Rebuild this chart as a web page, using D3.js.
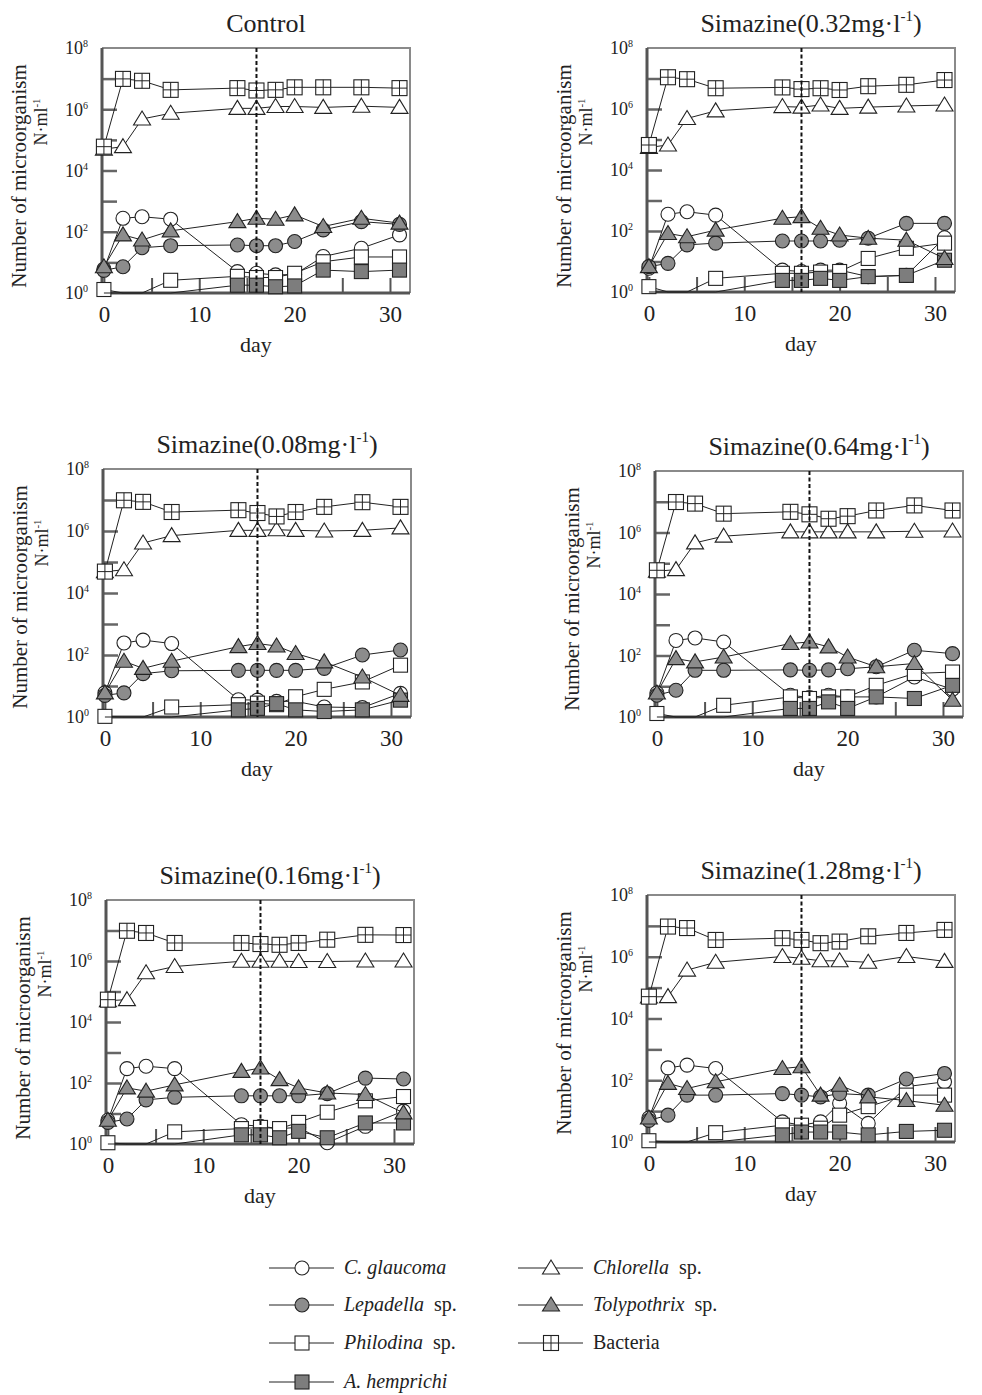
<!DOCTYPE html>
<html>
<head>
<meta charset="utf-8">
<script src="https://cdn.jsdelivr.net/npm/d3@7/dist/d3.min.js"></script>
<style>
  body { margin: 0; background: #fff; }
  svg { display: block; }
  text { font-family: "Liberation Serif", "Times New Roman", serif; fill: #222; }
</style>
</head>
<body>
<svg id="chart" width="982" height="1395"></svg>
<script>
// Sampling days
const days = [0, 2, 4, 7, 14, 16, 18, 20, 23, 27, 31];

// Treatments: null = control, otherwise simazine concentration (mg·l-1)
const treatments = [null, "0.08", "0.16", "0.32", "0.64", "1.28"];

// Densities (N·ml-1); one row per treatment in the order above; 0 = not detected
const cGlaucoma = [
  [6.0, 275, 309, 257, 5.0, 4.4, 3.9, 4.0, 15.5, 29, 79],
  [6.0, 245, 302, 234, 3.6, 3.5, 3.2, 3.2, 2.1, 2.0, 5.8],
  [6.0, 295, 355, 295, 4.3, 3.8, 3.2, 3.5, 1.1, 3.8, 12],
  [6.0, 355, 427, 331, 5.2, 4.7, 5.2, 5.2, 3.2, 3.5, 60],
  [6.0, 309, 372, 275, 5.1, 4.3, 5.1, 4.5, 4.5, 20, 8],
  [6.0, 251, 309, 240, 4.5, 3.5, 4.5, 18, 4.0, 62, 89]
];
const lepadella = [
  [5.5, 7.2, 30, 35, 37, 35, 35, 48, 115, 214, 174],
  [5.0, 6.0, 25, 31, 32, 32, 32, 32, 37, 100, 145],
  [5.1, 6.6, 28, 34, 38, 38, 38, 38, 45, 145, 135],
  [6.8, 8.7, 35, 40, 47, 47, 47, 50, 58, 178, 178],
  [5.1, 7.4, 33, 33, 34, 33, 34, 37, 43, 148, 115],
  [5.0, 7.4, 33, 33, 37, 33, 29, 37, 33, 110, 166]
];
const philodina = [
  [1.3, 0, 0, 2.6, 3.5, 3.2, 3.2, 4.4, 10.5, 15, 15],
  [1.05, 0, 0, 2.1, 2.5, 2.8, 2.5, 4.5, 7.8, 13.5, 47],
  [1.1, 0, 0, 2.5, 3.2, 3.5, 3.2, 5.1, 11, 26, 36],
  [1.5, 0, 0, 2.8, 4.1, 4.1, 4.5, 4.7, 12.6, 27, 40],
  [1.3, 0, 0, 2.4, 4.5, 4.0, 4.5, 4.5, 10.7, 26, 29],
  [1.1, 0, 0, 2.0, 3.5, 3.5, 2.8, 7.4, 14, 33, 33]
];
const aHemprichi = [
  [0, 0, 0, 0, 1.8, 1.8, 1.6, 1.7, 5.6, 5.0, 5.6],
  [0, 0, 0, 0, 1.7, 1.9, 2.7, 1.7, 1.5, 1.7, 3.5],
  [0, 0, 0, 0, 2.0, 2.0, 1.6, 2.6, 1.6, 4.9, 4.9],
  [0, 0, 0, 0, 2.4, 2.4, 2.8, 2.4, 3.2, 3.5, 11],
  [0, 0, 0, 0, 1.9, 1.9, 3.1, 1.9, 4.5, 4.0, 10.7],
  [0, 0, 0, 0, 1.7, 2.1, 2.1, 2.1, 1.7, 2.2, 2.4]
];
const chlorella = [
  [5.0e4, 6.0e4, 4.8e5, 7.4e5, 1.07e6, 1.07e6, 1.23e6, 1.23e6, 1.15e6, 1.26e6, 1.15e6],
  [4.9e4, 5.6e4, 4.1e5, 7.1e5, 1.05e6, 1.05e6, 1.1e6, 1.05e6, 1.0e6, 1.05e6, 1.26e6],
  [5.0e4, 5.4e4, 4.1e5, 6.6e5, 9.8e5, 9.8e5, 9.8e5, 9.6e5, 9.6e5, 1.0e6, 1.0e6],
  [5.5e4, 6.6e4, 4.9e5, 8.7e5, 1.2e6, 1.15e6, 1.35e6, 1.05e6, 1.15e6, 1.26e6, 1.35e6],
  [5.5e4, 6.2e4, 4.6e5, 7.6e5, 1.05e6, 1.05e6, 1.05e6, 1.05e6, 1.05e6, 1.1e6, 1.12e6],
  [5.0e4, 5.1e4, 3.7e5, 6.6e5, 1.02e6, 8.9e5, 7.4e5, 7.4e5, 6.6e5, 1.02e6, 7.1e5]
];
const tolypothrix = [
  [7.2, 79, 54, 107, 214, 275, 257, 355, 148, 275, 191],
  [6.0, 63, 37, 63, 186, 234, 195, 112, 60, 19.5, 5.0],
  [6.0, 69, 54, 87, 240, 309, 129, 69, 47, 42, 10.5],
  [6.8, 83, 65, 107, 263, 295, 123, 74, 58, 50, 12.6],
  [6.0, 79, 62, 89, 245, 275, 191, 89, 43, 55, 3.5],
  [6.0, 79, 54, 89, 240, 275, 33, 69, 29, 22, 15.5]
];
const bacteria = [
  [6.0e4, 9.8e6, 8.5e6, 4.3e6, 4.9e6, 4.1e6, 4.3e6, 5.2e6, 5.2e6, 5.2e6, 4.9e6],
  [4.9e4, 9.8e6, 8.7e6, 4.1e6, 4.7e6, 3.8e6, 2.95e6, 4.1e6, 6.0e6, 8.5e6, 6.0e6],
  [5.4e4, 9.8e6, 8.3e6, 3.9e6, 3.9e6, 3.6e6, 3.4e6, 3.9e6, 5.0e6, 7.2e6, 7.1e6],
  [6.6e4, 1.1e7, 9.5e6, 4.8e6, 5.1e6, 4.5e6, 4.8e6, 4.2e6, 5.6e6, 6.2e6, 8.9e6],
  [5.9e4, 9.8e6, 8.7e6, 4.1e6, 4.7e6, 3.9e6, 2.8e6, 3.4e6, 5.2e6, 7.6e6, 5.2e6],
  [5.1e4, 9.5e6, 8.5e6, 3.5e6, 4.0e6, 3.5e6, 2.75e6, 3.1e6, 4.6e6, 5.9e6, 7.4e6]
];

// Day on which the treatment was applied (dashed line)
const treatmentDay = 16;

// Axis ticks
const xTicks = [0, 5, 10, 15, 20, 25, 30];
const xTickLabels = [0, 10, 20, 30];
const yMinorTicks = [1e1, 1e2, 1e3, 1e4, 1e5, 1e6, 1e7];
const yTickLabels = [1e0, 1e2, 1e4, 1e6, 1e8];

// Series: italic part, trailing part, marker, data
const series = [
  { key: "glaucoma", ital: "C. glaucoma", rest: "", marker: "circleOpen", data: cGlaucoma },
  { key: "philodina", ital: "Philodina", rest: " sp.", marker: "squareOpen", data: philodina },
  { key: "hemprichi", ital: "A. hemprichi", rest: "", marker: "squareFilled", data: aHemprichi },
  { key: "lepadella", ital: "Lepadella", rest: " sp.", marker: "circleFilled", data: lepadella },
  { key: "tolypothrix", ital: "Tolypothrix", rest: " sp.", marker: "triangleFilled", data: tolypothrix },
  { key: "chlorella", ital: "Chlorella", rest: " sp.", marker: "triangleOpen", data: chlorella },
  { key: "bacteria", ital: "", rest: "Bacteria", marker: "bacteria", data: bacteria }
];

// Panel placement (left column: control, 0.08, 0.16; right column: 0.32, 0.64, 1.28)
const frames = [
  { x: 102, y: 48, h: 245 },
  { x: 103, y: 469, h: 248 },
  { x: 106, y: 900, h: 244 },
  { x: 647, y: 48, h: 244 },
  { x: 655, y: 471, h: 246 },
  { x: 647, y: 895, h: 247 }
];
const plotW = 308;
const xDomain = [-0.2, 32.1];

const GRAY = "#8c8c8c";
const INK = "#222";
const svg = d3.select("#chart");

function drawMarker(g, type, cx, cy) {
  const m = g.append("g").attr("transform", `translate(${cx},${cy})`);
  if (type === "circleOpen" || type === "circleFilled") {
    m.append("circle").attr("r", 7)
      .attr("fill", type === "circleOpen" ? "#fff" : GRAY)
      .attr("stroke", INK).attr("stroke-width", 1.1);
  } else if (type === "squareOpen" || type === "squareFilled") {
    m.append("rect").attr("x", -7).attr("y", -7).attr("width", 14).attr("height", 14)
      .attr("fill", type === "squareOpen" ? "#fff" : "#7d7d7d")
      .attr("stroke", INK).attr("stroke-width", 1.1);
  } else if (type === "triangleOpen" || type === "triangleFilled") {
    m.append("path").attr("d", "M0,-8 L8.5,6 L-8.5,6 Z")
      .attr("fill", type === "triangleOpen" ? "#fff" : GRAY)
      .attr("stroke", INK).attr("stroke-width", 1.1);
  } else if (type === "bacteria") {
    m.append("rect").attr("x", -7.5).attr("y", -7.5).attr("width", 15).attr("height", 15)
      .attr("fill", "#fff").attr("stroke", INK).attr("stroke-width", 1.1);
    m.append("path").attr("d", "M0,-7.5V7.5M-7.5,0H7.5")
      .attr("stroke", INK).attr("stroke-width", 1);
  }
}

treatments.forEach((conc, i) => {
  const f = frames[i];
  const x = d3.scaleLinear().domain(xDomain).range([f.x, f.x + plotW]);
  const y = d3.scaleLog().domain([1, 1e8]).range([f.y + f.h, f.y]);
  const g = svg.append("g");

  // Title
  const title = g.append("text")
    .attr("x", f.x + plotW / 2 + 10).attr("y", f.y - 16)
    .attr("text-anchor", "middle").attr("font-size", 26);
  if (conc === null) {
    title.text("Control");
  } else {
    title.append("tspan").text(`Simazine(${conc}mg·l`);
    title.append("tspan").attr("font-size", 15).attr("dy", -11).text("-1");
    title.append("tspan").attr("dy", 11).text(")");
  }

  // Frame (top and right)
  g.append("path")
    .attr("d", `M${f.x},${f.y}H${f.x + plotW}V${f.y + f.h}`)
    .attr("fill", "none").attr("stroke", "#8a8a8a").attr("stroke-width", 2);

  // Inward decade ticks on the y axis
  g.append("g").attr("transform", `translate(${f.x},0)`)
    .call(d3.axisLeft(y).tickValues(yMinorTicks).tickSize(-15).tickSizeOuter(0).tickFormat(""))
    .call(s => s.select(".domain").remove())
    .call(s => s.selectAll(".tick line").attr("stroke", "#666").attr("stroke-width", 2.5));

  // y tick labels with exponent
  const yl = g.append("g").attr("transform", `translate(${f.x},0)`)
    .call(d3.axisLeft(y).tickValues(yTickLabels).tickSize(0).tickPadding(14).tickFormat(() => "10"));
  yl.select(".domain").remove();
  yl.selectAll(".tick text")
    .attr("font-family", "Liberation Serif, serif").attr("font-size", 18).attr("fill", INK)
    .each(function(d) {
      d3.select(this).append("tspan").attr("font-size", 10).attr("dy", -7)
        .text(Math.round(Math.log10(d)));
    });

  // x axis with inward ticks
  const xa = g.append("g").attr("transform", `translate(0,${f.y + f.h})`)
    .call(d3.axisBottom(x).tickValues(xTicks).tickSize(-15).tickSizeOuter(0).tickPadding(13)
      .tickFormat(d => xTickLabels.includes(d) ? d : ""));
  xa.select(".domain").remove();
  xa.selectAll(".tick line").attr("stroke", "#555").attr("stroke-width", 2);
  xa.selectAll(".tick text").attr("font-family", "Liberation Serif, serif")
    .attr("font-size", 23).attr("fill", INK);

  // Axis lines (left and bottom)
  g.append("path")
    .attr("d", `M${f.x},${f.y}V${f.y + f.h}H${f.x + plotW}`)
    .attr("fill", "none").attr("stroke", "#555").attr("stroke-width", 3);

  // Axis titles
  g.append("text").attr("x", f.x + plotW / 2).attr("y", f.y + f.h + 59)
    .attr("text-anchor", "middle").attr("font-size", 22).text("day");
  g.append("text")
    .attr("transform", `translate(${f.x - 76},${f.y + 128}) rotate(-90)`)
    .attr("text-anchor", "middle").attr("font-size", 21).text("Number of microorganism");
  const unit = g.append("text")
    .attr("transform", `translate(${f.x - 55},${f.y + 74}) rotate(-90)`)
    .attr("text-anchor", "middle").attr("font-size", 18);
  unit.append("tspan").text("N·ml");
  unit.append("tspan").attr("font-size", 11).attr("dy", -7).text("-1");

  // Series lines and markers
  const line = d3.line().x(d => x(d.day)).y(d => y(Math.max(d.v, 1)));
  series.forEach(s => {
    const pts = days.map((day, k) => ({ day, v: s.data[i][k] }));
    g.append("path").attr("d", line(pts))
      .attr("fill", "none").attr("stroke", INK).attr("stroke-width", 1);
    pts.filter(p => p.v > 0).forEach(p => drawMarker(g, s.marker, x(p.day), y(p.v)));
  });

  // Treatment day marker
  g.append("line")
    .attr("x1", x(treatmentDay)).attr("x2", x(treatmentDay))
    .attr("y1", f.y).attr("y2", f.y + f.h)
    .attr("stroke", "#111").attr("stroke-width", 2).attr("stroke-dasharray", "4,2.5");
});

// Legend
const legendOrder = [
  ["glaucoma", 302, 1268], ["lepadella", 302, 1305], ["philodina", 302, 1343], ["hemprichi", 302, 1382],
  ["chlorella", 551, 1268], ["tolypothrix", 551, 1305], ["bacteria", 551, 1343]
];
const lg = svg.append("g");
legendOrder.forEach(([key, cx, cy]) => {
  const s = series.find(d => d.key === key);
  lg.append("line").attr("x1", cx - 33).attr("x2", cx + 32).attr("y1", cy).attr("y2", cy)
    .attr("stroke", INK).attr("stroke-width", 1);
  drawMarker(lg, s.marker, cx, cy);
  const t = lg.append("text").attr("x", cx + 42).attr("y", cy + 6).attr("font-size", 20);
  if (s.ital) t.append("tspan").attr("font-style", "italic").text(s.ital);
  if (s.rest) t.append("tspan").text(s.rest.replace(" ", "\u00a0\u00a0"));
});
</script>
</body>
</html>
